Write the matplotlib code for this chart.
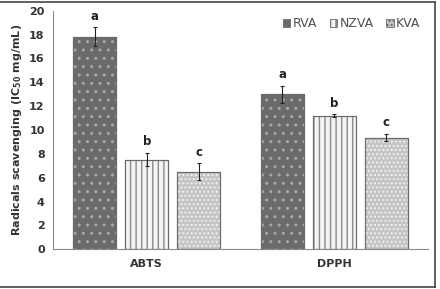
import matplotlib
matplotlib.use("Agg")
import matplotlib.pyplot as plt
import numpy as np
from matplotlib.patches import Patch
from matplotlib.lines import Line2D

categories = ["ABTS", "DPPH"]
series = ["RVA", "NZVA", "KVA"]
values = {
    "RVA": [17.8, 13.0],
    "NZVA": [7.5, 11.2],
    "KVA": [6.5, 9.35],
}
errors = {
    "RVA": [0.8, 0.7],
    "NZVA": [0.55, 0.1],
    "KVA": [0.7, 0.3],
}
letters = {
    "RVA": ["a", "a"],
    "NZVA": ["b", "b"],
    "KVA": ["c", "c"],
}
yticks = [0, 2, 4, 6, 8, 10, 12, 14, 16, 18, 20]

styles = {
    "RVA": dict(fc="#6b6b6b", hatch="..", hc="#a8a8a8"),
    "NZVA": dict(fc="#f4f4f4", hatch="|||", hc="#8a8a8a"),
    "KVA": dict(fc="#c4c4c4", hatch="....", hc="#f0f0f0"),
}

fig = plt.figure(figsize=(4.4, 2.89), dpi=100)
ax = fig.add_axes([0.1205, 0.1374, 0.8525, 0.8256])

x = np.arange(len(categories))
offsets = [-0.277, 0.0, 0.277]
width = 0.229
for s, off in zip(series, offsets):
    st = styles[s]
    xs = x + off
    ax.bar(xs, values[s], width, color=st["fc"], edgecolor="#6a6a6a", linewidth=0.8, zorder=2)
    ax.bar(xs, values[s], width, color="none", edgecolor=st["hc"], hatch=st["hatch"], linewidth=0, zorder=3)
    ax.bar(xs, values[s], width, color="none", edgecolor="#6a6a6a", linewidth=0.8, zorder=4)
    ax.errorbar(xs, values[s], yerr=errors[s], fmt="none", ecolor="#222222", elinewidth=0.8,
                capsize=1.5, capthick=0.8, zorder=5)
    for xi, v, e, l in zip(xs, values[s], errors[s], letters[s]):
        ax.text(xi, v + e + 0.4, l, ha="center", va="bottom", fontsize=8.5,
                fontweight="bold", color="#222222")

ax.set_xlim(-0.5, 1.5)
ax.set_ylim(0, 20)
ax.set_yticks(yticks)
ax.set_yticklabels([str(t) for t in yticks], fontsize=8, fontweight="bold", color="#333333")
ax.set_xticks(x)
ax.set_xticklabels(categories, fontsize=8, fontweight="bold", color="#333333")
ax.tick_params(axis="y", length=0, pad=6)
ax.tick_params(axis="x", length=0, pad=7)
for sp in ["top", "right"]:
    ax.spines[sp].set_visible(False)
ax.spines["left"].set_color("#8a8a8a")
ax.spines["bottom"].set_color("#8a8a8a")
ax.set_ylabel("Radicals scavenging (IC$_{\\mathbf{50}}$ mg/mL)", fontsize=8, fontweight="bold",
              color="#333333", labelpad=4)

handles = [Patch(facecolor=styles[s]["fc"], edgecolor="#6a6a6a", hatch=styles[s]["hatch"], linewidth=0.6)
           for s in series]
leg = ax.legend(handles, series, loc="upper right", ncol=3, frameon=False, fontsize=9,
                handlelength=0.6, handleheight=0.6, handletextpad=0.2, columnspacing=1.0,
                bbox_to_anchor=(1.01, 1.02), labelcolor="#505050")

# figure frame lines (top, right, bottom)
fig.add_artist(Line2D([0, 0.989], [0.993, 0.993], color="#444444", lw=1.2, transform=fig.transFigure))
fig.add_artist(Line2D([0.989, 0.989], [0.006, 0.993], color="#444444", lw=1.2, transform=fig.transFigure))
fig.add_artist(Line2D([0, 0.989], [0.006, 0.006], color="#444444", lw=1.2, transform=fig.transFigure))

fig.savefig("out.png", dpi=100)
